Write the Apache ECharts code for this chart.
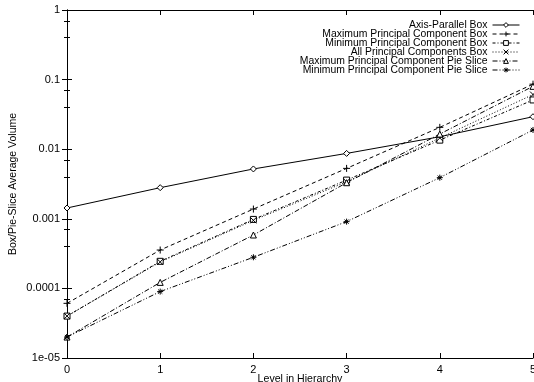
<!DOCTYPE html>
<html><head><meta charset="utf-8">
<script src="https://cdn.jsdelivr.net/npm/echarts@6/dist/echarts.min.js"></script>
<style>html,body{margin:0;padding:0;background:#fff}#c{width:534px;height:382px}</style>
</head><body><div id="c"></div>
<script>
const levels = [0, 1, 2, 3, 4, 5];
const seriesNames = [
  'Axis-Parallel Box',
  'Maximum Principal Component Box',
  'Minimum Principal Component Box',
  'All Principal Components Box',
  'Maximum Principal Component Pie Slice',
  'Minimum Principal Component Pie Slice'
];
const axisParallel = [0.00143, 0.0028, 0.0052, 0.0087, 0.0151, 0.0293];
const maxPCBox = [0.000061, 0.000356, 0.00138, 0.0053, 0.0206, 0.086];
const minPCBox = [0.00004, 0.000245, 0.00098, 0.0036, 0.0135, 0.051];
const allPCBox = [0.00004, 0.00024, 0.00095, 0.0034, 0.0145, 0.061];
const maxPCPie = [0.00002, 0.000122, 0.000585, 0.0033, 0.0165, 0.08];
const minPCPie = [0.00002, 0.00009, 0.00028, 0.00091, 0.0039, 0.0189];
const yTickLabels = {'1':'1','0.1':'0.1','0.01':'0.01','0.001':'0.001','0.0001':'0.0001','0.00001':'1e-05'};

const FONT = 'Liberation Sans';
const pts = arr => levels.map((x, i) => [x, arr[i]]);
const diamondPath = 'path://M5,0L10,5L5,10L0,5Z';
const rectPath = 'path://M0,0L10,0L10,10L0,10Z';
const triPath = 'path://M5,0L10,9L0,9Z';
const plusPath = 'path://M0,5L10,5M5,0L5,10';
const crossPath = 'path://M0,0L10,10M10,0L0,10';
const starPath = 'path://M0,5L10,5M5,0L5,10M1.5,1.5L8.5,8.5M8.5,1.5L1.5,8.5';

function mk(name, data, symbol, size, dash, filled) {
  return {
    name, type: 'line', data: pts(data), symbol, symbolSize: size,
    lineStyle: { color: '#000', width: 1, type: dash },
    itemStyle: { color: filled ? '#fff' : 'none', borderColor: '#000', borderWidth: 1 },
    emphasis: { disabled: true }, animation: false
  };
}

const chart = echarts.init(document.getElementById('c'));
const yBase = {
  type: 'log', logBase: 10, min: 0.00001, max: 1,
  axisLine: { show: true, lineStyle: { color: '#000', width: 1 } },
  axisTick: { show: true, inside: true, length: 5, lineStyle: { color: '#000' } },
  minorTick: { show: true, splitNumber: 3, length: 3, lineStyle: { color: '#000' } },
  splitLine: { show: false }, minorSplitLine: { show: false }
};
const xBase = {
  type: 'value', min: 0, max: 5, interval: 1,
  axisLine: { show: true, onZero: false, lineStyle: { color: '#000', width: 1 } },
  axisTick: { show: true, inside: true, length: 5, lineStyle: { color: '#000' } },
  splitLine: { show: false }
};
chart.setOption({
  backgroundColor: '#fff',
  textStyle: { fontFamily: FONT },
  grid: { left: 67, right: 1, top: 10, bottom: 24, outerBoundsMode: 'none', containLabel: false },
  legend: {
    orient: 'vertical', right: 14, top: 20, align: 'right', padding: 0,
    itemWidth: 27, itemHeight: 6, itemGap: -1,
    lineStyle: { width: 1 }, itemStyle: { borderWidth: 1 },
    textStyle: { fontFamily: FONT, fontSize: 10.4, color: '#000', lineHeight: 9 },
    data: seriesNames
  },
  xAxis: [
    Object.assign({}, xBase, {
      position: 'bottom',
      name: 'Level in Hierarchy', nameLocation: 'middle', nameGap: 16, nameMoveOverlap: false,
      nameTextStyle: { fontFamily: FONT, fontSize: 10.6, color: '#000', verticalAlign: 'top' },
      axisLabel: { fontFamily: FONT, fontSize: 11, color: '#000', margin: 6 }
    }),
    Object.assign({}, xBase, { position: 'top', axisLabel: { show: false } })
  ],
  yAxis: [
    Object.assign({}, yBase, {
      position: 'left',
      name: 'Box/Pie-Slice Average Volume', nameLocation: 'middle', nameGap: 54, nameMoveOverlap: false,
      nameTextStyle: { fontFamily: FONT, fontSize: 10.5, color: '#000', verticalAlign: 'middle' },
      axisLabel: { fontFamily: FONT, fontSize: 11, color: '#000', margin: 7,
        formatter: v => { const k = String(+v.toPrecision(1)); return yTickLabels[k] !== undefined ? yTickLabels[k] : (v < 0.0001 ? '1e-05' : k); } }
    }),
    Object.assign({}, yBase, { position: 'right', axisLabel: { show: false } })
  ],
  series: [
    mk(seriesNames[0], axisParallel, diamondPath, 6, 'solid', true),
    mk(seriesNames[1], maxPCBox, plusPath, 7, [4, 3], false),
    mk(seriesNames[2], minPCBox, rectPath, 6, [3, 2, 1, 2], true),
    mk(seriesNames[3], allPCBox, crossPath, 6, [1, 2], false),
    mk(seriesNames[4], maxPCPie, triPath, 6, [5, 2, 1, 2], true),
    mk(seriesNames[5], minPCPie, starPath, 6, [5, 2, 1, 2, 1, 2], false)
  ]
});
</script></body></html>
